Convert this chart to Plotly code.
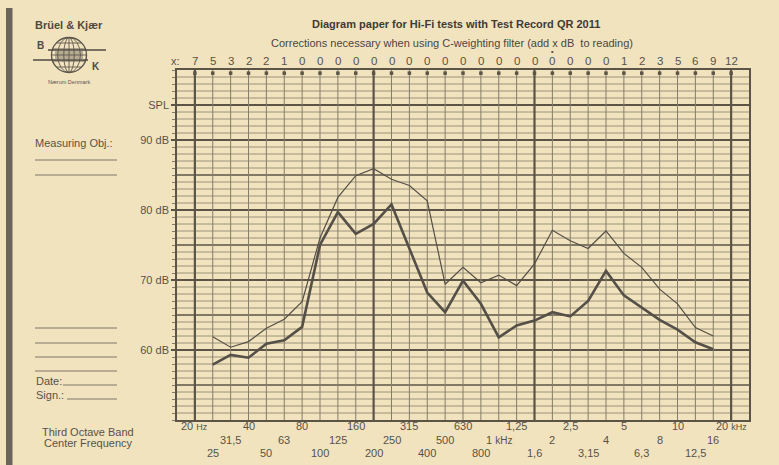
import plotly.graph_objects as go

# ---------------- data ----------------
bands = ["20 Hz", "25", "31,5", "40", "50", "63", "80", "100", "125", "160", "200",
         "250", "315", "400", "500", "630", "800", "1 kHz", "1,25", "1,6", "2",
         "2,5", "3,15", "4", "5", "6,3", "8", "10", "12,5", "16", "20 kHz"]
corrections = [7, 5, 3, 2, 2, 1] + [0] * 18 + [1, 2, 3, 5, 6, 9, 12]
measured_bands = bands[1:30]
thin_curve = [61.9, 60.4, 61.2, 63.1, 64.4, 66.9, 76.0, 81.8, 84.9, 85.9, 84.4, 83.5,
              81.3, 69.4, 71.8, 69.6, 70.7, 69.2, 72.3, 77.1, 75.6, 74.5, 77.0, 73.8,
              71.8, 68.7, 66.6, 63.2, 62.0]
thick_curve = [57.9, 59.3, 58.9, 60.9, 61.4, 63.3, 75.0, 79.7, 76.6, 78.0, 80.8, 74.4,
               68.2, 65.4, 69.9, 66.6, 61.8, 63.5, 64.2, 65.4, 64.8, 67.0, 71.3, 67.8,
               66.1, 64.3, 62.9, 61.1, 60.1]
y_tickvals = [95, 90, 80, 70, 60]
y_ticktext = ["SPL", "90 dB", "80 dB", "70 dB", "60 dB"]

# ---------------- style ----------------
PAPER = "#f2e3bf"
GRID_THIN = "#857d6a"
GRID_DARK = "#5b5447"
INK = "#575249"
CURVE = "#555047"
FONT = "Liberation Sans, Arial, sans-serif"

W, H = 779, 465
L, R, T, B = 177, 749, 70, 420


def pxx(x):
    return (x - L) / (R - L)


def pyy(y):
    return (B - y) / (B - T)


fig = go.Figure()

fig.add_trace(go.Scatter(x=measured_bands, y=thin_curve, mode="lines",
                         line=dict(color=CURVE, width=1.2), hoverinfo="skip",
                         showlegend=False))
fig.add_trace(go.Scatter(x=measured_bands, y=thick_curve, mode="lines",
                         line=dict(color=CURVE, width=2.6), hoverinfo="skip",
                         showlegend=False))
# little square ticks at top of each vertical line
fig.add_trace(go.Scatter(x=bands, y=[99.55] * len(bands), mode="markers",
                         marker=dict(symbol="square", size=3.5, color=GRID_DARK),
                         cliponaxis=False, hoverinfo="skip", showlegend=False))

shapes = []
# vertical grid (category index positions)
for i, b in enumerate(bands):
    thick = i in (0, 10, 19, 30)
    shapes.append(dict(type="line", xref="x", yref="y", x0=i, x1=i, y0=50, y1=100,
                       line=dict(color=GRID_DARK if thick else GRID_THIN,
                                 width=2.2 if thick else 1), layer="below"))
# horizontal grid
for v in range(51, 100):
    if v % 10 == 0 or v == 95:
        w, c = 2.0, GRID_DARK
    elif v % 5 == 0:
        w, c = 1.4, GRID_DARK
    else:
        w, c = 0.8, GRID_THIN
    shapes.append(dict(type="line", xref="paper", yref="y", x0=0, x1=1, y0=v, y1=v,
                       line=dict(color=c, width=w), layer="below"))

# left dark binding bar
shapes.append(dict(type="rect", xref="paper", yref="paper", x0=pxx(6), x1=pxx(12.5),
                   y0=pyy(465), y1=pyy(8), fillcolor="#6b645a", line=dict(width=0)))
# form lines on the left
for (x0, x1, y) in [(35, 117, 160), (35, 117, 175), (35, 117, 328), (35, 117, 343),
                    (35, 117, 357), (35, 117, 371), (63, 117, 385), (67, 117, 399)]:
    shapes.append(dict(type="line", xref="paper", yref="paper", x0=pxx(x0), x1=pxx(x1),
                       y0=pyy(y), y1=pyy(y), line=dict(color="#7d7668", width=1)))
# globe logo
cx, cy, r = 69, 55, 17.5
shapes.append(dict(type="circle", xref="paper", yref="paper", x0=pxx(cx - r), x1=pxx(cx + r),
                   y0=pyy(cy + r), y1=pyy(cy - r), line=dict(color="#5d574d", width=1.4)))
for k in (0.3, 0.65):
    shapes.append(dict(type="circle", xref="paper", yref="paper", x0=pxx(cx - r * k),
                       x1=pxx(cx + r * k), y0=pyy(cy + r), y1=pyy(cy - r),
                       line=dict(color="#5d574d", width=0.9)))
shapes.append(dict(type="line", xref="paper", yref="paper", x0=pxx(cx), x1=pxx(cx),
                   y0=pyy(cy + r), y1=pyy(cy - r), line=dict(color="#5d574d", width=0.9)))
for dy in (-12, -6, 0, 6, 12):
    half = (r * r - dy * dy) ** 0.5
    shapes.append(dict(type="line", xref="paper", yref="paper", x0=pxx(cx - half),
                       x1=pxx(cx + half), y0=pyy(cy + dy), y1=pyy(cy + dy),
                       line=dict(color="#5d574d", width=0.9)))
for yy in (52, 54, 56, 58):
    shapes.append(dict(type="line", xref="paper", yref="paper", x0=pxx(cx - 14),
                       x1=pxx(cx + 14), y0=pyy(yy), y1=pyy(yy),
                       line=dict(color="#5d574d", width=0.8)))
shapes.append(dict(type="line", xref="paper", yref="paper", x0=pxx(48), x1=pxx(106),
                   y0=pyy(50), y1=pyy(50), line=dict(color="#4f4a42", width=1.6)))
shapes.append(dict(type="line", xref="paper", yref="paper", x0=pxx(33), x1=pxx(88),
                   y0=pyy(60), y1=pyy(60), line=dict(color="#4f4a42", width=1.6)))
# small dot above the "0" at 2 kHz
shapes.append(dict(type="circle", xref="x", yref="paper", x0=19.93, x1=20.07,
                   y0=pyy(53), y1=pyy(51), fillcolor=INK, line=dict(width=0)))

ann = []


def text(x, y, s, size=11, xa="center", bold=False, color=INK):
    ann.append(dict(x=x, y=y, xref="paper", yref="paper",
                    text=("<b>%s</b>" % s) if bold else s,
                    showarrow=False, xanchor=xa, yanchor="middle",
                    font=dict(family=FONT, size=size, color=color)))


# titles
text(pxx(456), pyy(24), "Diagram paper for Hi-Fi tests with Test Record QR 2011", 11, bold=True,
     color="#3f3b35")
text(pxx(452), pyy(43), "Corrections necessary when using C-weighting filter (add x dB  to reading)",
     11, color="#4a463f")
# correction row
text(pxx(169), pyy(61), "x:", 11, xa="left")
for i, c in enumerate(corrections):
    ann.append(dict(x=i, y=pyy(61), xref="x", yref="paper", text=str(c), showarrow=False,
                    xanchor="center", yanchor="middle",
                    font=dict(family=FONT, size=11.5, color=INK)))
# frequency labels, three staggered rows
row_y = {0: 426, 2: 440, 1: 453}
for i, b in enumerate(bands):
    label = b
    if b == "20 Hz":
        label = "20 <span style='font-size:9px'>Hz</span>"
    elif b == "20 kHz":
        label = "20 <span style='font-size:9px'>kHz</span>"
    elif b == "1 kHz":
        label = "1 <span style='font-size:10px'>kHz</span>"
    ann.append(dict(x=i, y=pyy(row_y[i % 3]), xref="x", yref="paper", text=label,
                    showarrow=False, xanchor="center", yanchor="middle",
                    font=dict(family=FONT, size=11, color=INK)))

# left panel text
text(pxx(33), pyy(25), "Brüel & Kjær", 11, xa="left", bold=True, color="#4e4a43")
text(pxx(40), pyy(45), "B", 10, bold=True, color="#4e4a43")
text(pxx(96), pyy(66), "K", 10, bold=True, color="#4e4a43")
text(pxx(69), pyy(82), "Nærum Denmark", 5.5, color="#5a564f")
text(pxx(33), pyy(143), "Measuring Obj.:", 11, xa="left")
text(pxx(34), pyy(381), "Date:", 11, xa="left")
text(pxx(34), pyy(395), "Sign.:", 11, xa="left")
text(pxx(88), pyy(432), "Third Octave Band", 11)
text(pxx(88), pyy(443), "Center Frequency", 11)

fig.update_layout(
    width=W, height=H, autosize=False,
    margin=dict(l=L, r=W - R, t=T, b=H - B),
    paper_bgcolor=PAPER, plot_bgcolor=PAPER,
    shapes=shapes, annotations=ann, showlegend=False,
    xaxis=dict(type="category", categoryorder="array", categoryarray=bands,
               range=[-1, 31], showgrid=False, showticklabels=False, ticks="",
               zeroline=False, showline=True, mirror=True, linecolor=GRID_DARK, linewidth=1.6,
               fixedrange=True),
    yaxis=dict(range=[50, 100], showgrid=False, zeroline=False, tickmode="array",
               tickvals=y_tickvals, ticktext=y_ticktext, ticks="outside", ticklen=4,
               tickcolor=GRID_DARK, tickwidth=1.5,
               tickfont=dict(family=FONT, size=11, color=INK),
               minor=dict(ticks="outside", ticklen=3, dtick=1, tick0=50, tickcolor=GRID_THIN,
                          tickwidth=1),
               showline=True, mirror=True, linecolor=GRID_DARK, linewidth=1.6,
               fixedrange=True),
)

fig.write_html("out.html",
               config={"displayModeBar": False},
               post_script="document.body.style.margin='0';"
                           "document.body.style.overflow='hidden';"
                           "document.body.style.background='" + PAPER + "';")
